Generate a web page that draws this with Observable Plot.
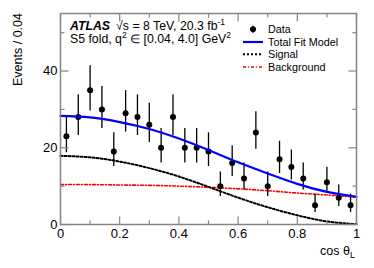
<!DOCTYPE html>
<html><head><meta charset="utf-8">
<script src="https://cdn.jsdelivr.net/npm/d3@7"></script>
<script src="https://cdn.jsdelivr.net/npm/@observablehq/plot@0.6"></script>
<style>body{margin:0;background:#fff}</style>
</head><body><div id="chart"></div>
<script>
// ---- data ----
const binCenters = [0.02,0.06,0.10,0.14,0.18,0.22,0.26,0.30,0.34,0.38,0.42,0.46,0.50,0.54,0.58,0.62,0.66,0.70,0.74,0.78,0.82,0.86,0.90,0.94,0.98];
const counts     = [23,28,35,30,19,29,28,26,20,28,20,20,19,10,16,12,24,10,17,15,12,5,11,7,5];
const errUp      = [5.3,5.8,6.4,6.0,4.9,5.9,5.8,5.6,5.0,5.8,5.0,5.0,4.9,3.7,4.5,4.0,5.4,3.7,4.7,4.4,4.0,2.9,3.9,3.3,2.9];
const errDown    = [4.3,4.8,5.4,5.0,3.9,4.9,4.8,4.6,4.0,4.8,4.0,4.0,3.9,2.7,3.5,3.0,4.4,2.7,3.7,3.4,3.0,1.9,2.9,2.3,1.9];
const curveX     = [0,0.1,0.2,0.3,0.4,0.5,0.6,0.7,0.8,0.9,1.0];
const totalFit   = [28.3,27.9,26.7,24.9,22.4,19.4,16.2,13.3,10.6,8.5,7.2];
const signal     = [17.9,17.5,16.4,14.7,12.5,9.8,7.0,4.5,2.4,0.8,0.1];
const background = [10.4,10.4,10.3,10.2,10.0,9.7,9.3,8.8,8.2,7.7,7.1];
const xTicks      = [0,0.2,0.4,0.6,0.8,1];
const xMinorTicks = [0.1,0.3,0.5,0.7,0.9];
const yTicks      = [0,20,40];
const yMinorTicks = [10,30,50];
const legendLabels = ["Data","Total Fit Model","Signal","Background"];

const points = binCenters.map((x,i)=>({x, n:counts[i], lo:counts[i]-errDown[i], hi:counts[i]+errUp[i]}));
const curves = curveX.map((x,i)=>({x, total:totalFit[i], sig:signal[i], bkg:background[i]}));

const frameColor = "#858585";
const font = "'Liberation Sans', Arial, Helvetica, sans-serif";

function ticks(vals, opts){ return Plot.vector(vals, {r:0, anchor:"start", stroke:frameColor, strokeWidth:1.2, strokeLinecap:"butt", ...opts}); }

const chart = Plot.plot({
  width: 374, height: 268,
  marginLeft: 60, marginRight: 18, marginTop: 13, marginBottom: 44,
  style: {fontFamily: font, fontSize: "13px", color: "black", background: "white"},
  x: {domain: [0,1]},
  y: {domain: [0,55]},
  marks: [
    Plot.line(curves, {x:"x", y:"bkg", stroke:"#ff0000", strokeWidth:1.6, strokeDasharray:"3,2,1,2", curve:"natural"}),
    Plot.line(curves, {x:"x", y:"sig", stroke:"#000000", strokeWidth:2, strokeDasharray:"2,2", curve:"natural"}),
    Plot.ruleX(points, {x:"x", y1:"lo", y2:"hi", stroke:"black", strokeWidth:1.3}),
    Plot.dot(points, {x:"x", y:"n", r:3, fill:"black", stroke:null}),
    Plot.line(curves, {x:"x", y:"total", stroke:"#0000ff", strokeWidth:2.2, curve:"natural"}),
    // inward ticks on all four sides
    ticks(xTicks, {x:d=>d, y:0, length:8, rotate:0}),
    ticks(xMinorTicks, {x:d=>d, y:0, length:4, rotate:0}),
    ticks(xTicks, {x:d=>d, y:55, length:8, rotate:180}),
    ticks(xMinorTicks, {x:d=>d, y:55, length:4, rotate:180}),
    ticks(yTicks, {x:0, y:d=>d, length:8, rotate:90}),
    ticks(yMinorTicks, {x:0, y:d=>d, length:4, rotate:90}),
    ticks(yTicks, {x:1, y:d=>d, length:8, rotate:-90}),
    ticks(yMinorTicks, {x:1, y:d=>d, length:4, rotate:-90}),
    Plot.frame({stroke:frameColor, strokeWidth:1.5}),
    Plot.axisX({ticks:xTicks, tickSize:0, tickPadding:4, fontSize:13, label:null,
      tickFormat:d=> (d===0||d===1) ? String(d) : d.toFixed(1)}),
    Plot.axisY({ticks:yTicks, tickSize:0, tickPadding:3, fontSize:13, label:null, tickFormat:d=>String(d)})
  ]
});
document.getElementById("chart").appendChild(chart);

// ---- titles, header and legend ----
const svg = d3.select(chart);
const g = svg.append("g").attr("font-family", font).attr("fill","black").attr("text-anchor","start");

// y axis title
g.append("text").attr("transform","translate(22,13) rotate(-90)").attr("text-anchor","end")
  .attr("font-size",12.5).text("Events / 0.04");
// x axis title
const xt = g.append("text").attr("x",355).attr("y",255).attr("text-anchor","end").attr("font-size",12.5);
xt.append("tspan").text("cos θ");
xt.append("tspan").attr("font-size",9).attr("dy",3).text("L");

// header line 1
const h1 = g.append("text").attr("x",70).attr("y",30).attr("font-size",12.3).attr("text-anchor","start");
h1.append("tspan").attr("font-weight","bold").attr("font-style","italic").text("ATLAS");
h1.append("tspan").attr("dx",6).text("√s = 8 TeV, 20.3 fb");
h1.append("tspan").attr("font-size",8.5).attr("dy",-5).text("-1");
// header line 2
const h2 = g.append("text").attr("x",70).attr("y",43).attr("font-size",12.3).attr("text-anchor","start");
h2.append("tspan").text("S5 fold, q");
h2.append("tspan").attr("font-size",8.5).attr("dy",-5).text("2");
h2.append("tspan").attr("dy",5).text(" ∈ [0.04, 4.0] GeV");
h2.append("tspan").attr("font-size",8.5).attr("dy",-5).text("2");

// legend
const rows = [29.3, 42, 54.3, 67];
const lx0 = 243, lx1 = 263, ltx = 268;
g.append("line").attr("x1",253).attr("x2",253).attr("y1",rows[0]-3.5).attr("y2",rows[0]+3.5).attr("stroke","black").attr("stroke-width",1.3);
g.append("circle").attr("cx",253).attr("cy",rows[0]).attr("r",3);
g.append("line").attr("x1",lx0).attr("x2",lx1).attr("y1",rows[1]).attr("y2",rows[1]).attr("stroke","#0000ff").attr("stroke-width",2.2);
g.append("line").attr("x1",lx0).attr("x2",lx1).attr("y1",rows[2]).attr("y2",rows[2]).attr("stroke","black").attr("stroke-width",2).attr("stroke-dasharray","2,2");
g.append("line").attr("x1",lx0).attr("x2",lx1).attr("y1",rows[3]).attr("y2",rows[3]).attr("stroke","#ff0000").attr("stroke-width",1.6).attr("stroke-dasharray","3,2,1,2");
legendLabels.forEach((t,i)=>{
  g.append("text").attr("x",ltx).attr("y",rows[i]).attr("dy","0.35em").attr("font-size",10.8).attr("text-anchor","start").text(t);
});
</script>
</body></html>
